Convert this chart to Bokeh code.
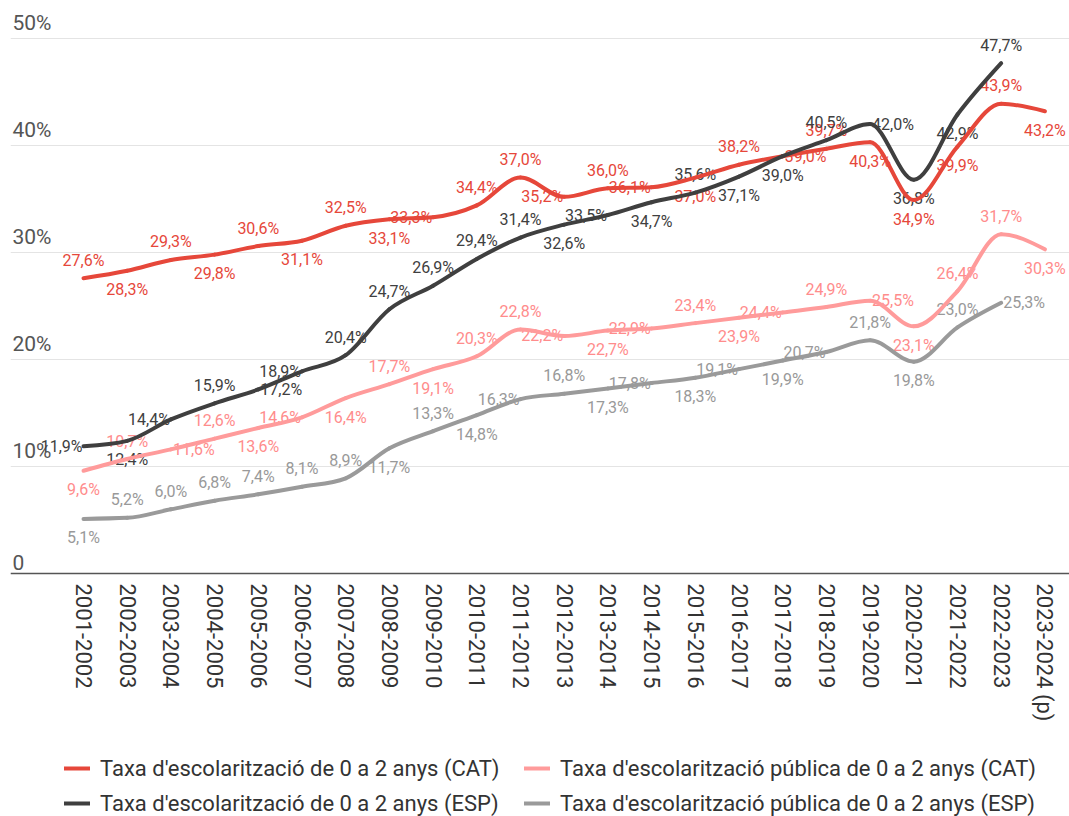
from bokeh.plotting import figure
from bokeh.models import ColumnDataSource, Range1d, FixedTicker, Legend, LegendItem
from bokeh.core.properties import value
from bokeh.embed import file_html
from bokeh.resources import INLINE

# ---------------- data ----------------
categories = ["2001-2002", "2002-2003", "2003-2004", "2004-2005", "2005-2006", "2006-2007",
              "2007-2008", "2008-2009", "2009-2010", "2010-2011", "2011-2012", "2012-2013",
              "2013-2014", "2014-2015", "2015-2016", "2016-2017", "2017-2018", "2018-2019",
              "2019-2020", "2020-2021", "2021-2022", "2022-2023", "2023-2024 (p)"]
cat_total = [27.6, 28.3, 29.3, 29.8, 30.6, 31.1, 32.5, 33.1, 33.3, 34.4, 37.0, 35.2,
             36.0, 36.1, 37.0, 38.2, 39.0, 39.7, 40.3, 34.9, 39.9, 43.9, 43.2]
cat_public = [9.6, 10.7, 11.6, 12.6, 13.6, 14.6, 16.4, 17.7, 19.1, 20.3, 22.8, 22.2,
              22.7, 22.9, 23.4, 23.9, 24.4, 24.9, 25.5, 23.1, 26.4, 31.7, 30.3]
esp_total = [11.9, 12.4, 14.4, 15.9, 17.2, 18.9, 20.4, 24.7, 26.9, 29.4, 31.4, 32.6,
             33.5, 34.7, 35.6, 37.1, 39.0, 40.5, 42.0, 36.8, 42.9, 47.7, None]
esp_public = [5.1, 5.2, 6.0, 6.8, 7.4, 8.1, 8.9, 11.7, 13.3, 14.8, 16.3, 16.8,
              17.3, 17.8, 18.3, 19.1, 19.9, 20.7, 21.8, 19.8, 23.0, 25.3, None]
series_names = ["Taxa d'escolarització de 0 a 2 anys (CAT)",
                "Taxa d'escolarització pública de 0 a 2 anys (CAT)",
                "Taxa d'escolarització de 0 a 2 anys (ESP)",
                "Taxa d'escolarització pública de 0 a 2 anys (ESP)"]
y_ticks = [0, 10, 20, 30, 40, 50]
y_tick_labels = ["0", "10%", "20%", "30%", "40%", "50%"]

# ---------------- styles ----------------
line_colors = ["#e6473a", "#ff9b9b", "#3f3f3f", "#9a9a9a"]
label_colors = ["#e6473a", "#ff8c8c", "#404040", "#999999"]
# label placement: a=above, b=below, l=left of point, r=right of point
placements = [
    list("ababababla" "alalbarabb" "bab"),
    list("barablbaba" "alblablarb" "aab"),
    list("lblarlaaaa" "ablbabbarb" "ba") + [""],
    list("baaaaaabab" "lablblblab" "ar") + [""],
]
place_style = {"a": (0, -18, "center"), "b": (0, 19, "center"),
               "l": (-1, 0, "right"), "r": (2, 0, "left")}

FONT = "Roboto"
W, H = 1069, 816
PX_PER_UNIT = 10.7
ZERO_Y = 573          # pixel row of the zero line
LEFT = 10             # frame left edge
n = len(categories)
step_px = 43.7
x_start = -(83 - LEFT) / step_px
x_end = x_start + (W - LEFT) / step_px
y_end = ZERO_Y / PX_PER_UNIT
y_start = -(H - ZERO_Y) / PX_PER_UNIT

p = figure(width=W, height=H, x_range=Range1d(x_start, x_end),
           y_range=Range1d(y_start, y_end),
           output_backend="svg", toolbar_location=None,
           min_border_left=LEFT, min_border_right=0, min_border_top=0, min_border_bottom=0)
p.outline_line_color = None
p.background_fill_color = "white"
p.border_fill_color = "white"
p.xgrid.grid_line_color = None
p.yaxis.visible = False
p.yaxis.ticker = FixedTicker(ticks=y_ticks)
p.ygrid.ticker = FixedTicker(ticks=y_ticks)
p.ygrid.grid_line_color = "#e4e4e4"
p.ygrid.grid_line_width = 1

xa = p.xaxis[0]
xa.fixed_location = 0
xa.ticker = FixedTicker(ticks=list(range(n)))
xa.major_label_overrides = {i: c for i, c in enumerate(categories)}
xa.major_label_orientation = "vertical"
xa.major_tick_line_color = None
xa.minor_tick_line_color = None
xa.major_tick_in = 0
xa.major_tick_out = 0
xa.axis_line_color = "#555555"
xa.axis_line_width = 1.5
xa.major_label_standoff = 10
xa.major_label_text_font = FONT
xa.major_label_text_font_size = "22px"
xa.major_label_text_color = "#333333"

# y tick labels (sit above the gridlines, left aligned)
ysrc = ColumnDataSource(dict(x=[x_start] * len(y_ticks), y=y_ticks, t=y_tick_labels))
p.text(x="x", y="y", text="t", source=ysrc, x_offset=2, y_offset=-4,
       text_align="left", text_baseline="bottom", text_font=value(FONT),
       text_font_size="21px", text_color="#555555")

all_series = [cat_total, cat_public, esp_total, esp_public]

# data labels (drawn below the lines)
for vals, plc, col in zip(all_series, placements, label_colors):
    xs, ys, ts, dxs, dys, als = [], [], [], [], [], []
    for i, (v, pl) in enumerate(zip(vals, plc)):
        if v is None or pl == "":
            continue
        dx, dy, al = place_style[pl]
        xs.append(i); ys.append(v)
        ts.append(f"{v:.1f}".replace(".", ",") + "%")
        dxs.append(dx); dys.append(dy); als.append(al)
    src = ColumnDataSource(dict(x=xs, y=ys, t=ts, dx=dxs, dy=dys, al=als))
    p.text(x="x", y="y", text="t", source=src, x_offset="dx", y_offset="dy",
           text_align="al", text_baseline="middle", text_font=value(FONT),
           text_font_size="16px", text_color=col)


def monotone_bezier(vals):
    X = [i for i, v in enumerate(vals) if v is not None]
    Y = [v for v in vals if v is not None]
    m = len(X)
    h = [X[i + 1] - X[i] for i in range(m - 1)]
    s = [(Y[i + 1] - Y[i]) / h[i] for i in range(m - 1)]
    sg = lambda v: -1 if v < 0 else 1
    t = [0.0] * m
    for i in range(1, m - 1):
        s0, s1 = s[i - 1], s[i]
        pp = (s0 * h[i] + s1 * h[i - 1]) / (h[i - 1] + h[i])
        t[i] = (sg(s0) + sg(s1)) * min(abs(s0), abs(s1), 0.5 * abs(pp))
    t[0] = (3 * s[0] - t[1]) / 2
    t[-1] = (3 * s[-1] - t[-2]) / 2
    d = dict(x0=[], y0=[], x1=[], y1=[], cx0=[], cy0=[], cx1=[], cy1=[])
    for i in range(m - 1):
        dx = h[i] / 3
        d["x0"].append(X[i]); d["y0"].append(Y[i])
        d["x1"].append(X[i + 1]); d["y1"].append(Y[i + 1])
        d["cx0"].append(X[i] + dx); d["cy0"].append(Y[i] + dx * t[i])
        d["cx1"].append(X[i + 1] - dx); d["cy1"].append(Y[i + 1] - dx * t[i + 1])
    return ColumnDataSource(d)


renderers = []
for vals, col in zip(all_series, line_colors):
    r = p.bezier(x0="x0", y0="y0", x1="x1", y1="y1", cx0="cx0", cy0="cy0",
                 cx1="cx1", cy1="cy1", source=monotone_bezier(vals),
                 line_color=col, line_width=4, line_cap="round")
    renderers.append(r)

# draw order: CAT public, ESP public, CAT total, ESP total on top
for idx in [1, 3, 0, 2]:
    p.renderers.remove(renderers[idx])
    p.renderers.append(renderers[idx])

legend_style = dict(border_line_color=None, background_fill_alpha=0, padding=0, margin=0,
                    glyph_width=26, glyph_height=26, label_height=26, label_standoff=10,
                    spacing=9, label_text_font=FONT, label_text_font_size="22px",
                    label_text_color="#333333", orientation="vertical")
leg1 = Legend(items=[LegendItem(label=series_names[0], renderers=[renderers[0]]),
                     LegendItem(label=series_names[2], renderers=[renderers[2]])],
              location=(54, 0), **legend_style)
leg2 = Legend(items=[LegendItem(label=series_names[1], renderers=[renderers[1]]),
                     LegendItem(label=series_names[3], renderers=[renderers[3]])],
              location=(514, 0), **legend_style)
p.add_layout(leg1, "center")
p.add_layout(leg2, "center")

open("out.html", "w").write(file_html(p, INLINE))
